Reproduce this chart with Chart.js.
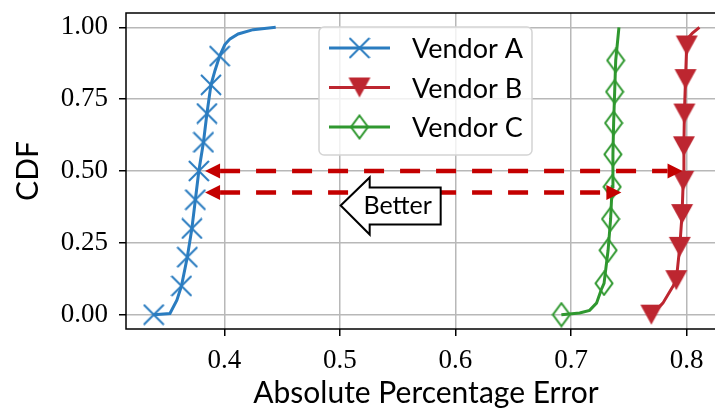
<!DOCTYPE html>
<html>
<head>
<meta charset="utf-8">
<script src="https://cdn.jsdelivr.net/npm/chart.js@4.4.1/dist/chart.umd.min.js"></script>
<style>
html, body { margin: 0; padding: 0; background: #fff; overflow: hidden; width: 715px; height: 412px; }
canvas { display: block; }
</style>
</head>
<body>
<canvas id="cdfChart" width="740" height="412"></canvas>
<script>
// ==================== DATA ====================
const X_TICKS = [0.4, 0.5, 0.6, 0.7, 0.8];
const X_LABELS = ['0.4', '0.5', '0.6', '0.7', '0.8'];
const Y_TICKS = [0, 0.25, 0.5, 0.75, 1];
const Y_LABELS = ['0.00', '0.25', '0.50', '0.75', '1.00'];
const X_RANGE = [0.315, 0.834];
const Y_RANGE = [-0.05, 1.05];

const SERIES_NAMES = ['Vendor A', 'Vendor B', 'Vendor C'];

const VENDOR_A_X = [0.339, 0.353, 0.359, 0.363, 0.368, 0.372, 0.375, 0.378, 0.382, 0.385, 0.3885, 0.392, 0.396, 0.4005, 0.405, 0.412, 0.425, 0.4445];
const VENDOR_A_Y = [0, 0.004, 0.05, 0.10, 0.20, 0.30, 0.40, 0.50, 0.60, 0.70, 0.80, 0.85, 0.90, 0.94, 0.96, 0.977, 0.992, 1.0];
const VENDOR_A_MARKS = [0, 3, 4, 5, 6, 7, 8, 9, 10, 12];

const VENDOR_B_X = [0.7694, 0.771, 0.7794, 0.788, 0.791, 0.794, 0.796, 0.797, 0.7976, 0.798, 0.799, 0.800, 0.801, 0.805, 0.811];
const VENDOR_B_Y = [0, 0.006, 0.04, 0.098, 0.12, 0.236, 0.35, 0.466, 0.586, 0.70, 0.82, 0.937, 0.962, 0.98, 1.0];
const VENDOR_B_MARKS = [0, 4, 5, 6, 7, 8, 9, 10, 11];

const VENDOR_C_X = [0.6916, 0.7074, 0.716, 0.722, 0.726, 0.7285, 0.732, 0.7342, 0.7355, 0.7362, 0.7368, 0.7377, 0.7386, 0.7414];
const VENDOR_C_Y = [0, 0.006, 0.015, 0.04, 0.086, 0.109, 0.224, 0.333, 0.445, 0.558, 0.667, 0.776, 0.885, 1.0];
const VENDOR_C_MARKS = [0, 5, 6, 7, 8, 9, 10, 11, 12];

// dashed double arrows (median gap)
const ARROW_Y = [0.5, 0.425];
const ARROW_FROM = [0.3834, 0.3834];
const ARROW_TO = [0.7964, 0.7435];

const BETTER_TEXT = 'Better';
const BETTER_AT = [0.55, 0.38];

// ==================== STYLE ====================
const SANS = 'Lato, "Liberation Sans", sans-serif';
const SERIF = '"Liberation Serif", "DejaVu Serif", serif';
const BLUE = '#2a7cc0';
const RED = '#bd2630';
const GREEN = '#2f982f';
const ARROW_RED = '#c40000';

// marker glyphs drawn once into small canvases
function markerImage(kind, color) {
    const c = document.createElement('canvas');
    const g = c.getContext('2d');
    if (kind === 'x') {
        c.width = 22; c.height = 22;
        g.strokeStyle = color; g.lineWidth = 2;
        g.beginPath();
        g.moveTo(1, 1); g.lineTo(21, 21);
        g.moveTo(21, 1); g.lineTo(1, 21);
        g.stroke();
    } else if (kind === 'v') {
        c.width = 24; c.height = 22;
        g.fillStyle = color;
        g.beginPath();
        g.moveTo(1, 1); g.lineTo(23, 1); g.lineTo(12, 21);
        g.closePath(); g.fill();
    } else {
        c.width = 20; c.height = 26;
        g.strokeStyle = color; g.lineWidth = 2;
        g.beginPath();
        g.moveTo(10, 1.5); g.lineTo(18.5, 13); g.lineTo(10, 24.5); g.lineTo(1.5, 13);
        g.closePath(); g.stroke();
    }
    return c;
}

const MARK_A = markerImage('x', BLUE);
const MARK_B = markerImage('v', RED);
const MARK_C = markerImage('d', GREEN);

function series(label, xs, ys, marks, color, marker) {
    return {
        label: label,
        data: xs.map((x, i) => ({ x: x, y: ys[i] })),
        showLine: true,
        borderColor: color,
        backgroundColor: color,
        borderWidth: 3,
        tension: 0,
        pointStyle: marker,
        pointRadius: ctx => marks.includes(ctx.dataIndex) ? 10 : 0,
        pointHoverRadius: 0,
        pointHitRadius: 0
    };
}

// frame, arrows, "Better" box and legend on top of the data
const overlay = {
    id: 'overlay',
    afterDatasetsDraw(chart) {
        const ctx = chart.ctx;
        const a = chart.chartArea;
        const xs = chart.scales.x, ys = chart.scales.y;

        ctx.save();
        ctx.strokeStyle = '#000';
        ctx.lineWidth = 1.5;
        ctx.strokeRect(a.left, a.top, a.right - a.left, a.bottom - a.top);

        // dashed arrows, heads at both ends
        const headLen = 15, headHalf = 7.5;
        ARROW_Y.forEach((yv, i) => {
            const y = ys.getPixelForValue(yv);
            const x1 = xs.getPixelForValue(ARROW_FROM[i]);
            const x2 = xs.getPixelForValue(ARROW_TO[i]);
            ctx.strokeStyle = ARROW_RED;
            ctx.fillStyle = ARROW_RED;
            ctx.lineWidth = 4.5;
            ctx.setLineDash([20, 16]);
            ctx.beginPath();
            ctx.moveTo(x1 + headLen, y);
            ctx.lineTo(x2 - headLen, y);
            ctx.stroke();
            ctx.setLineDash([]);
            ctx.beginPath();
            ctx.moveTo(x1, y); ctx.lineTo(x1 + headLen, y - headHalf); ctx.lineTo(x1 + headLen, y + headHalf);
            ctx.closePath(); ctx.fill();
            ctx.beginPath();
            ctx.moveTo(x2, y); ctx.lineTo(x2 - headLen, y - headHalf); ctx.lineTo(x2 - headLen, y + headHalf);
            ctx.closePath(); ctx.fill();
        });

        // left-arrow box around "Better"
        const bx = xs.getPixelForValue(BETTER_AT[0]);
        const by = ys.getPixelForValue(BETTER_AT[1]);
        ctx.beginPath();
        ctx.moveTo(bx - 57, by);
        ctx.lineTo(bx - 28, by - 28);
        ctx.lineTo(bx - 28, by - 18);
        ctx.lineTo(bx + 43, by - 18);
        ctx.lineTo(bx + 43, by + 19);
        ctx.lineTo(bx - 28, by + 19);
        ctx.lineTo(bx - 28, by + 29);
        ctx.closePath();
        ctx.fillStyle = '#fff';
        ctx.fill();
        ctx.strokeStyle = '#000';
        ctx.lineWidth = 2;
        ctx.stroke();
        ctx.fillStyle = '#000';
        ctx.font = '25px ' + SANS;
        ctx.textAlign = 'center';
        ctx.textBaseline = 'alphabetic';
        ctx.fillText(BETTER_TEXT, bx, by + 9);

        // legend
        const lx = 319, ly = 27, lw = 213, lh = 128;
        ctx.beginPath();
        ctx.roundRect(lx, ly, lw, lh, 5);
        ctx.fillStyle = 'rgba(255,255,255,0.8)';
        ctx.fill();
        ctx.strokeStyle = '#d4d4d4';
        ctx.lineWidth = 1.5;
        ctx.stroke();
        const marks = [MARK_A, MARK_B, MARK_C];
        chart.data.datasets.forEach((ds, i) => {
            const rowY = 48 + i * 39.5;
            ctx.strokeStyle = ds.borderColor;
            ctx.lineWidth = 3;
            ctx.beginPath();
            ctx.moveTo(329, rowY);
            ctx.lineTo(390, rowY);
            ctx.stroke();
            const m = marks[i];
            ctx.drawImage(m, 359.5 - m.width / 2, rowY - m.height / 2);
            ctx.fillStyle = '#000';
            ctx.font = '27px ' + SANS;
            ctx.textAlign = 'left';
            ctx.fillText(ds.label, 412, rowY + 10);
        });
        ctx.restore();
    }
};

const gridStyle = { color: '#b8b8b8', lineWidth: 1.5, tickColor: '#000', tickLength: 7, tickWidth: 1.5 };

new Chart(document.getElementById('cdfChart'), {
    type: 'scatter',
    data: {
        datasets: [
            series(SERIES_NAMES[0], VENDOR_A_X, VENDOR_A_Y, VENDOR_A_MARKS, BLUE, MARK_A),
            series(SERIES_NAMES[1], VENDOR_B_X, VENDOR_B_Y, VENDOR_B_MARKS, RED, MARK_B),
            series(SERIES_NAMES[2], VENDOR_C_X, VENDOR_C_Y, VENDOR_C_MARKS, GREEN, MARK_C)
        ]
    },
    options: {
        responsive: false,
        animation: false,
        layout: { padding: { top: 11, right: 14, left: 0, bottom: 0 } },
        plugins: {
            legend: { display: false },
            tooltip: { enabled: false }
        },
        scales: {
            x: {
                type: 'linear',
                min: X_RANGE[0],
                max: X_RANGE[1],
                afterBuildTicks: s => { s.ticks = X_TICKS.map(v => ({ value: v })); },
                afterFit: s => { s.height = 83; s.paddingLeft = 0; s.paddingRight = 0; },
                grid: gridStyle,
                border: { display: false },
                ticks: {
                    autoSkip: false, maxRotation: 0, padding: 9, color: '#000',
                    font: { family: SERIF, size: 27 },
                    callback: (v, i) => X_LABELS[i]
                },
                title: {
                    display: true, text: 'Absolute Percentage Error', color: '#000',
                    font: { family: SANS, size: 30 }, padding: { top: 0, bottom: 1 }
                }
            },
            y: {
                min: Y_RANGE[0],
                max: Y_RANGE[1],
                afterBuildTicks: s => { s.ticks = Y_TICKS.map(v => ({ value: v })); },
                afterFit: s => { s.width = 126; s.paddingTop = 0; s.paddingBottom = 0; },
                grid: gridStyle,
                border: { display: false },
                ticks: {
                    autoSkip: false, padding: 11, color: '#000',
                    font: { family: SERIF, size: 27 },
                    callback: (v, i) => Y_LABELS[i]
                },
                title: {
                    display: true, text: 'CDF', color: '#000',
                    font: { family: SANS, size: 30 }, padding: { top: 10, bottom: 0 }
                }
            }
        }
    },
    plugins: [overlay]
});
</script>
</body>
</html>
